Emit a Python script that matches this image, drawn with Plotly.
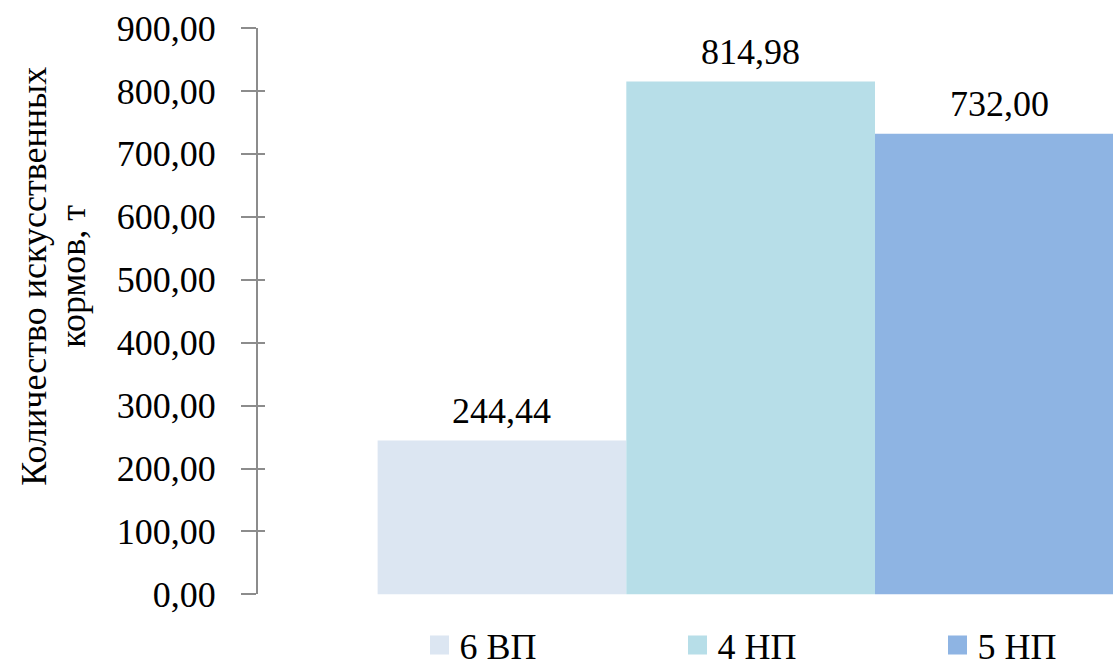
import plotly.graph_objects as go

categories = ["6 ВП", "4 НП", "5 НП"]
values = [244.44, 814.98, 732.00]
colors = ["#DCE6F2", "#B7DEE8", "#8EB4E3"]
y_ticks = [0, 100, 200, 300, 400, 500, 600, 700, 800, 900]
y_title_lines = ["Количество искусственных", "кормов, т"]

FONT = "Times New Roman, Liberation Serif, serif"
FS = 36
AXIS_COLOR = "#8C8C8C"
W, H = 1113, 668

fig = go.Figure()

for i, (cat, val, col) in enumerate(zip(categories, values, colors)):
    fig.add_trace(go.Bar(
        x=[i], y=[val], width=1, marker=dict(color=col, line=dict(width=0)),
        showlegend=False, name=cat, hoverinfo="skip",
    ))
    fig.add_annotation(
        x=i, y=val, xref="x", yref="y", text=f"{val:.2f}".replace(".", ","),
        showarrow=False, yanchor="bottom", yshift=8,
        font=dict(family=FONT, size=FS, color="black"),
    )

# legend entries, one legend per entry for exact placement
legend_names = ["legend", "legend2", "legend3"]
legend_symbol_px = [439.5, 697.5, 957.5]
for cat, col, lg in zip(categories, colors, legend_names):
    fig.add_trace(go.Scatter(
        x=[None], y=[None], mode="markers", name=cat, legend=lg,
        marker=dict(symbol="square", size=16, color=col, line=dict(width=3, color=col)),
    ))

# secondary axis for the inner half of the crossing tick marks
fig.add_trace(go.Scatter(x=[None], y=[None], yaxis="y2", showlegend=False))

legend_common = dict(
    orientation="h", xanchor="left", yanchor="middle",
    xref="container", yref="container", itemsizing="trace",
    font=dict(family=FONT, size=FS, color="black"),
    bgcolor="rgba(0,0,0,0)", borderwidth=0,
)
legends = {}
for lg, px in zip(legend_names, legend_symbol_px):
    legends[lg] = dict(legend_common, x=(px - 20) / W, y=1 - 645 / H)

fig.update_layout(
    width=W, height=H,
    margin=dict(l=258, r=0, t=28, b=70),
    paper_bgcolor="white", plot_bgcolor="white",
    barmode="overlay",
    separators=", ",
    font=dict(family=FONT, size=FS, color="black"),
    xaxis=dict(range=[-0.981, 2.457], visible=False, fixedrange=True),
    yaxis=dict(
        range=[0, 900], tickvals=y_ticks, tickformat=".2f",
        showgrid=False, zeroline=False,
        showline=True, linecolor=AXIS_COLOR, linewidth=2,
        ticks="outside", ticklen=15, tickwidth=2, tickcolor=AXIS_COLOR,
        ticklabelstandoff=18,
        tickfont=dict(family=FONT, size=FS, color="black"),
    ),
    yaxis2=dict(
        range=[0, 900], tickvals=y_ticks, overlaying="y", side="left", anchor="x",
        showgrid=False, zeroline=False, showline=False, showticklabels=False,
        ticks="inside", ticklen=7, tickwidth=2, tickcolor=AXIS_COLOR,
    ),
    **legends,
)

fig.add_annotation(
    x=0, y=0.561, xref="paper", yref="paper", xshift=-224, text=y_title_lines[0],
    textangle=-90, showarrow=False, xanchor="center", yanchor="middle",
    font=dict(family=FONT, size=FS, color="black"),
)
fig.add_annotation(
    x=0, y=0.561, xref="paper", yref="paper", xshift=-185, text=y_title_lines[1],
    textangle=-90, showarrow=False, xanchor="center", yanchor="middle",
    font=dict(family=FONT, size=FS, color="black"),
)

fig.write_html("out.html")
